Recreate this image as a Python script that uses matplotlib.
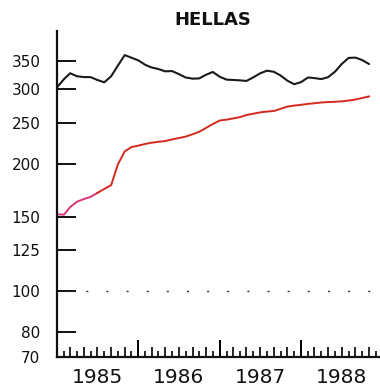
import numpy as np
import pandas as pd
import matplotlib
matplotlib.use("Agg")
import matplotlib.pyplot as plt
import matplotlib.dates as mdates
from matplotlib.ticker import FixedLocator, NullFormatter

##################################################################################
# Data (monthly) #################################################################
##################################################################################
months = pd.date_range("1985-01-01", periods=47, freq="MS")

black_vals = [302.6, 316.3, 326.8, 321.4, 320.1, 319.9, 315.1, 311.0, 321.5, 340.6,
              360.6, 355.5, 350.3, 342.0, 337.2, 334.3, 330.2, 330.6, 325.4, 319.3,
              317.3, 317.7, 324.2, 329.0, 320.6, 315.6, 315.1, 314.4, 313.4, 319.6,
              326.5, 331.3, 329.3, 322.8, 313.7, 307.9, 311.4, 319.4, 318.2, 316.6,
              319.8, 329.5, 343.5, 355.1, 355.7, 351.0, 343.5]

red_vals = [151.9, 151.6, 158.0, 162.7, 165.0, 167.0, 170.6, 174.3, 178.0, 199.2,
            213.8, 218.8, 220.6, 222.6, 224.1, 225.2, 226.1, 228.1, 229.8, 231.6,
            234.6, 237.8, 242.9, 248.0, 252.8, 254.0, 255.6, 257.4, 260.5, 262.3,
            264.2, 265.4, 266.2, 269.4, 272.7, 274.1, 275.3, 276.7, 277.6, 278.8,
            279.4, 279.9, 280.5, 281.7, 283.3, 285.7, 288.1]

ytick_vals = [70, 80, 100, 125, 150, 200, 250, 300, 350]
years = [1985, 1986, 1987, 1988]
title = "HELLAS"

##################################################################################
# Figure ########################################################################
##################################################################################
fig = plt.figure(figsize=(3.8, 3.92), dpi=100)
ax = fig.add_axes([57 / 380, 1 - 357 / 392, 1 - 57 / 380, (357 - 31) / 392])

ax.plot(months, black_vals, color="#1a1a1a", linewidth=1.5, solid_capstyle="round")
ax.plot(months[:7], red_vals[:7], color="#d8357a", linewidth=1.4)
ax.plot(months[6:], red_vals[6:], color="#d42a1e", linewidth=1.4)
ax.axhline(100, color="#333333", linewidth=1.0, linestyle=(8.3, (1.5, 13)))

ax.set_yscale("log")
ax.set_ylim(70, 411)
ax.set_xlim(pd.Timestamp("1985-01-01"), pd.Timestamp("1988-12-20"))

for s in ["top", "right"]:
    ax.spines[s].set_visible(False)
for s in ["left", "bottom"]:
    ax.spines[s].set_linewidth(1.6)
    ax.spines[s].set_color("#111111")

# y axis
ax.yaxis.set_major_locator(FixedLocator(ytick_vals))
ax.yaxis.set_minor_locator(FixedLocator([]))
ax.set_yticklabels([str(v) for v in ytick_vals])
ax.tick_params(axis="y", direction="in", length=13.5, width=1.4, pad=12,
               labelsize=11, colors="#111111")

# x axis: long year ticks, alternating month ticks
year_starts = [pd.Timestamp(f"{y}-01-01") for y in years]
ax.set_xticks(year_starts)
ax.xaxis.set_major_formatter(NullFormatter())
all_months = pd.date_range("1985-01-01", "1988-12-31", freq="MS")
short_months = [m for m in all_months if m.month % 2 == 0]
ax.xaxis.set_minor_locator(FixedLocator(mdates.date2num(short_months)))
ax.tick_params(axis="x", which="major", direction="in", length=12, width=1.4)
ax.tick_params(axis="x", which="minor", direction="in", length=4.5, width=1.2)

sec = ax.secondary_xaxis("bottom")
tall_months = [m for m in all_months if m.month % 2 == 1 and m.month != 1]
sec.set_xticks(mdates.date2num(tall_months))
sec.xaxis.set_major_formatter(NullFormatter())
sec.tick_params(axis="x", direction="in", length=7.5, width=1.2)
sec.spines["bottom"].set_visible(False)

# year labels centred on each year
for y in years:
    ax.text(pd.Timestamp(f"{y}-07-01"), -0.035, str(y), transform=ax.get_xaxis_transform(),
            ha="center", va="top", fontsize=14.5, color="#111111")

fig.text(213 / 380, 1 - 20 / 392, title, ha="center", va="center",
         fontsize=13, fontweight="bold", color="#111111")

fig.savefig("out.png", dpi=100, facecolor="white")
